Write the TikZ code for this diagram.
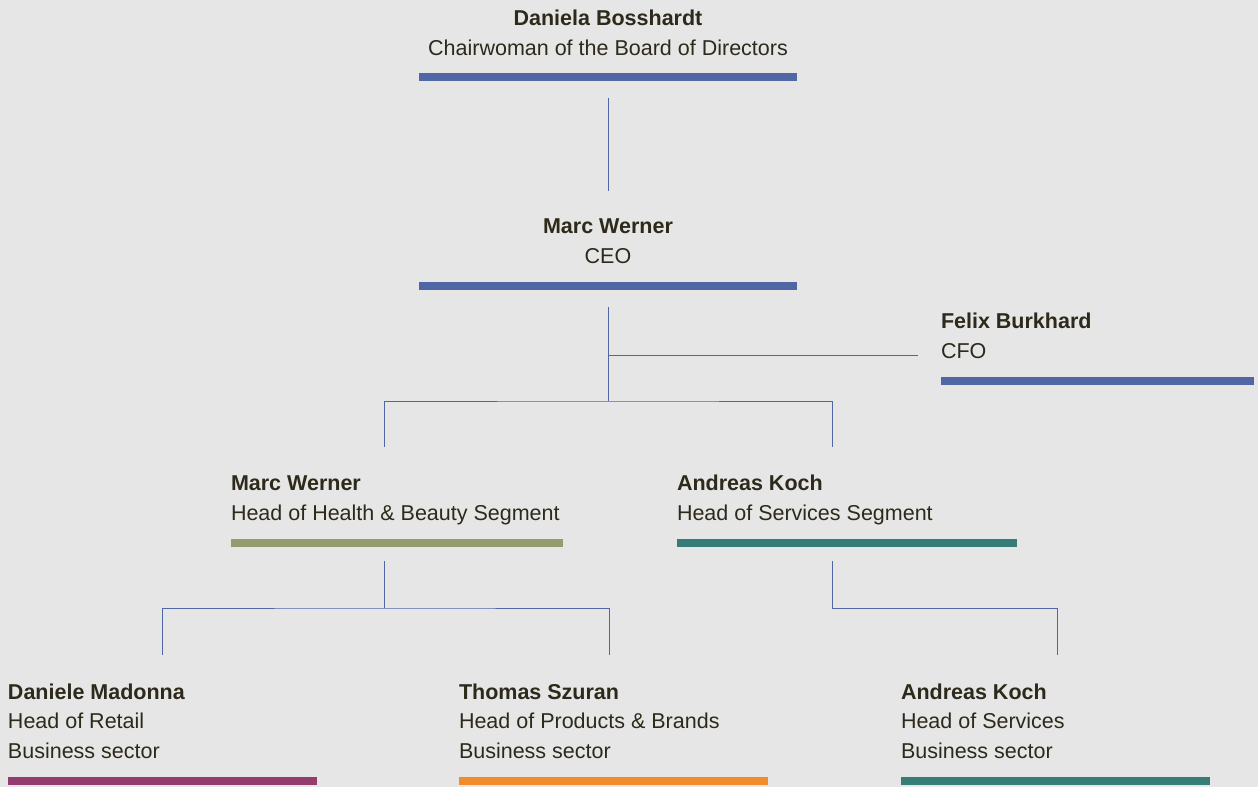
\documentclass[tikz,border=0pt]{standalone}
\usepackage{fontspec}
\setmainfont{Liberation Sans}
\usetikzlibrary{positioning}
\definecolor{paper}{HTML}{E6E6E6}
\definecolor{ink}{HTML}{2D2A1B}
\definecolor{boardblue}{HTML}{5066A5}
\definecolor{healtholive}{HTML}{949B6E}
\definecolor{serviceteal}{HTML}{367D78}
\definecolor{retailplum}{HTML}{943C6E}
\definecolor{brandorange}{HTML}{F28C28}
\begin{document}
\begin{tikzpicture}[x=1pt,y=-1pt,
    every node/.style={inner sep=0,outer sep=0,text=ink,
        font=\fontsize{21.5}{29.5}\selectfont},
    chief/.style={align=center,anchor=base},
    person/.style={align=left,anchor=base west},
    bar/.style={fill=#1,minimum height=7.5pt,anchor=north west},
    link/.style={draw=boardblue,line width=1pt}]
    \fill[paper] (0,0) rectangle (1258,787);
    \useasboundingbox (0,0) rectangle (1258,787);
    % board and management (base = last line)
    \node[chief](chair) at (608,55) {\textbf{Daniela Bosshardt}\\Chairwoman of the Board of Directors};
    \node[bar=boardblue,minimum width=378pt](chair bar) at (419,73) {};
    \node[chief](ceo) at (608,263) {\textbf{Marc Werner}\\CEO};
    \node[bar=boardblue,minimum width=378pt](ceo bar) at (419,282) {};
    \node[person](cfo) at (941,358) {\textbf{Felix Burkhard}\\CFO};
    \node[bar=boardblue,minimum width=313pt](cfo bar) at (941,377) {};
    % segments
    \node[person](health) at (231,520) {\textbf{Marc Werner}\\Head of Health \& Beauty Segment};
    \node[bar=healtholive,minimum width=332pt](health bar) at (231,539) {};
    \node[person](services) at (677,520) {\textbf{Andreas Koch}\\Head of Services Segment};
    \node[bar=serviceteal,minimum width=340pt](services bar) at (677,539) {};
    % business sectors
    \node[person](retail) at (8,758) {\textbf{Daniele Madonna}\\Head of Retail\\Business sector};
    \node[bar=retailplum,minimum width=309pt](retail bar) at (8,777) {};
    \node[person](brands) at (459,758) {\textbf{Thomas Szuran}\\Head of Products \& Brands\\Business sector};
    \node[bar=brandorange,minimum width=309pt](brands bar) at (459,777) {};
    \node[person](sector) at (901,758) {\textbf{Andreas Koch}\\Head of Services\\Business sector};
    \node[bar=serviceteal,minimum width=309pt](sector bar) at (901,777) {};
    % junctions
    \coordinate (split) at (608,401);
    \coordinate (cfo tap) at (608,355);
    \coordinate (health top) at (384,447);
    \coordinate (services top) at (832,447);
    \coordinate (health out) at (384,561);
    \coordinate (services out) at (832,561);
    \coordinate (health fork) at (384,608);
    \coordinate (services fork) at (832,608);
    \coordinate (retail top) at (162,655);
    \coordinate (brands top) at (609,655);
    \coordinate (sector top) at (1057,655);
    % connectors
    \draw[link] ([yshift=-17pt]chair bar.south) -- ([yshift=28pt]ceo.north);
    \draw[link] ([yshift=-17pt]ceo bar.south) -- (split);
    \draw[link] (cfo tap) -- ([xshift=-23pt]cfo tap -| cfo.west);
    \draw[link] (health top) |- (split) -| (services top);
    \draw[link] (health out) -- (health fork);
    \draw[link] (retail top) |- (health fork) -| (brands top);
    \draw[link] (services out) -- (services fork) -| (sector top);
\end{tikzpicture}
\end{document}
